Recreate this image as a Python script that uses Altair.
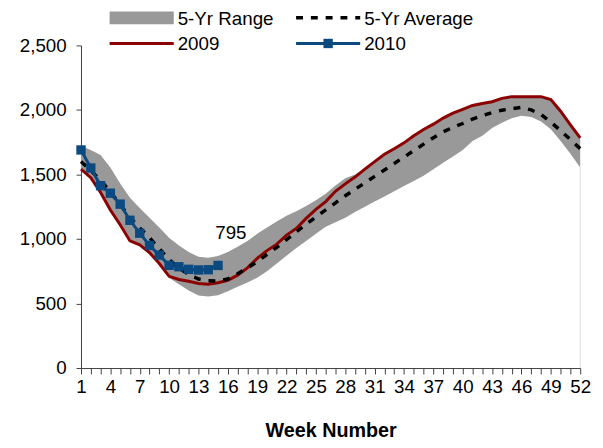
import altair as alt
import pandas as pd

# ---------------- data ----------------
weeks = list(range(1, 53))

range_low = [1535, 1465, 1350, 1220, 1095, 978, 945, 880, 800, 700,
             650, 600, 562, 555, 565, 595, 630, 662, 700, 750,
             810, 870, 930, 985, 1040, 1095, 1130, 1165, 1210, 1250,
             1290, 1330, 1370, 1410, 1450, 1490, 1540, 1590, 1640, 1690,
             1760, 1800, 1860, 1900, 1935, 1955, 1945, 1910, 1850, 1760,
             1660, 1555]

range_high = [1720, 1690, 1650, 1555, 1430, 1320, 1240, 1165, 1090, 1010,
              950, 900, 862, 855, 868, 900, 940, 985, 1040, 1090,
              1135, 1180, 1215, 1255, 1300, 1350, 1415, 1470, 1500, 1545,
              1600, 1656, 1700, 1745, 1800, 1848, 1890, 1937, 1975, 2005,
              2035, 2050, 2064, 2090, 2103, 2103, 2103, 2103, 2080, 1990,
              1885, 1783]

avg_5yr = [1600, 1530, 1455, 1365, 1265, 1170, 1085, 1010, 925, 840,
           775, 725, 690, 677, 673, 690, 730, 775, 825, 880,
           935, 995, 1055, 1115, 1170, 1225, 1280, 1335, 1385, 1435,
           1485, 1535, 1585, 1635, 1685, 1735, 1785, 1830, 1865, 1895,
           1930, 1955, 1980, 1998, 2010, 2020, 2000, 1965, 1905, 1840,
           1770, 1700]

y2009 = [1541, 1475, 1360, 1225, 1110, 985, 955, 895, 810, 711,
         686, 673, 655, 650, 661, 680, 720, 776, 850, 910,
         960, 1030, 1082, 1160, 1230, 1290, 1370, 1427, 1480, 1541,
         1600, 1656, 1700, 1745, 1800, 1848, 1890, 1937, 1975, 2005,
         2035, 2050, 2064, 2090, 2103, 2103, 2103, 2103, 2080, 1990,
         1885, 1783]

weeks_2010 = list(range(1, 16))
y2010 = [1690, 1550, 1413, 1355, 1270, 1145, 1045, 950, 875, 796,
         785, 765, 760, 762, 795]

legend_labels = ["5-Yr Range", "5-Yr Average", "2009", "2010"]
y_ticks = [0, 500, 1000, 1500, 2000, 2500]

# ---------------- styling ----------------
FONT = "Liberation Sans"
W, H = 506, 327
GRAY = "#999999"
RED = "#8B0000"
BLUE = "#0B4A80"
AXIS_COL = "#404040"
TICK_FS = 19
LEG_FS = 19

df = pd.DataFrame({"week": weeks, "low": range_low, "high": range_high,
                   "avg": avg_5yr, "y2009": y2009})
df10 = pd.DataFrame({"week": weeks_2010, "value": y2010})

x_axis = alt.Axis(values=weeks,
                  labelExpr="(datum.value - 1) % 3 == 0 ? datum.label : ''",
                  labelOverlap=False, labelFlush=False,
                  tickSize=6, tickColor=AXIS_COL, domainColor=AXIS_COL,
                  labelFont=FONT, labelFontSize=TICK_FS, labelColor="#000",
                  labelPadding=4, grid=False,
                  title="Week Number", titleFont=FONT, titleFontSize=20,
                  titleFontWeight="bold", titleColor="#000",
                  titleBaseline="alphabetic", titleY=69)
X = alt.X("week:Q", scale=alt.Scale(domain=[1, 52], nice=False, zero=False),
          axis=x_axis)

y_scale = alt.Scale(domain=[0, 2500], nice=False)
y_axis = alt.Axis(values=y_ticks, format=",.0f", tickSize=5, tickColor=AXIS_COL,
                  domainColor=AXIS_COL, labelFont=FONT, labelFontSize=TICK_FS,
                  labelColor="#000", labelPadding=10, grid=False, title=None,
                  labelOverlap=False, labelFlush=False)


def Y(field):
    return alt.Y(f"{field}:Q", scale=y_scale, axis=y_axis)


band = alt.Chart(df).mark_area(color=GRAY, opacity=1).encode(
    x=X, y=Y("low"), y2="high:Q")

edge = alt.Chart(df).transform_filter("datum.week == 52").transform_calculate(
    zero="0").mark_rule(color="#dddddd", strokeWidth=1).encode(
    x=X, y=Y("zero"), y2="low:Q")

line09 = alt.Chart(df).mark_line(color=RED, strokeWidth=3).encode(
    x=X, y=Y("y2009"))

avg = alt.Chart(df).mark_line(color="#000", strokeWidth=3.5,
                              strokeDash=[7, 8]).encode(x=X, y=Y("avg"))

line10 = alt.Chart(df10).mark_line(color=BLUE, strokeWidth=3).encode(
    x=X, y=Y("value"))
pts10 = alt.Chart(df10).mark_point(shape="square", filled=True, size=90,
                                   color=BLUE, opacity=1).encode(
    x=X, y=Y("value"))

label = alt.Chart(df10).transform_filter("datum.week == 15").mark_text(
    font=FONT, fontSize=LEG_FS, dx=13, dy=-33, color="#000").encode(
    x=X, y=Y("value"), text=alt.value(str(y2010[-1])))

# ---------------- legend (drawn in the top padding) ----------------
one = pd.DataFrame({"k": [0]})
row1, row2 = -28, -2
col1, col2 = 29, 218
sw = 65

leg = [
    alt.Chart(one).mark_rect(color=GRAY).encode(
        x=alt.value(col1), x2=alt.value(col1 + sw),
        y=alt.value(row1 - 6.5), y2=alt.value(row1 + 6.5)),
    alt.Chart(one).mark_rule(color="#000", strokeWidth=3.5,
                             strokeDash=[7, 8]).encode(
        x=alt.value(col2), x2=alt.value(col2 + sw), y=alt.value(row1)),
    alt.Chart(one).mark_rule(color=RED, strokeWidth=3).encode(
        x=alt.value(col1), x2=alt.value(col1 + sw), y=alt.value(row2)),
    alt.Chart(one).mark_rule(color=BLUE, strokeWidth=3).encode(
        x=alt.value(col2), x2=alt.value(col2 + sw), y=alt.value(row2)),
    alt.Chart(one).mark_point(shape="square", filled=True, size=90,
                              color=BLUE, opacity=1).encode(
        x=alt.value(col2 + sw / 2), y=alt.value(row2)),
]
for (cx, cy), txt in zip([(col1, row1), (col2, row1), (col1, row2), (col2, row2)],
                         legend_labels):
    leg.append(alt.Chart(one).mark_text(
        font=FONT, fontSize=LEG_FS, align="left", baseline="middle",
        color="#000").encode(x=alt.value(cx + sw + 4), y=alt.value(cy + 1),
                             text=alt.value(txt)))

chart = alt.layer(band, edge, line09, avg, line10, pts10, label, *leg).properties(
    width=W, height=H,
    padding={"left": 74, "top": 35, "right": 15, "bottom": 70},
    autosize=alt.AutoSizeParams(type="none"),
    background="white",
).configure_view(stroke=None)

chart.save("out.html", embed_options={"renderer": "svg", "actions": False})
